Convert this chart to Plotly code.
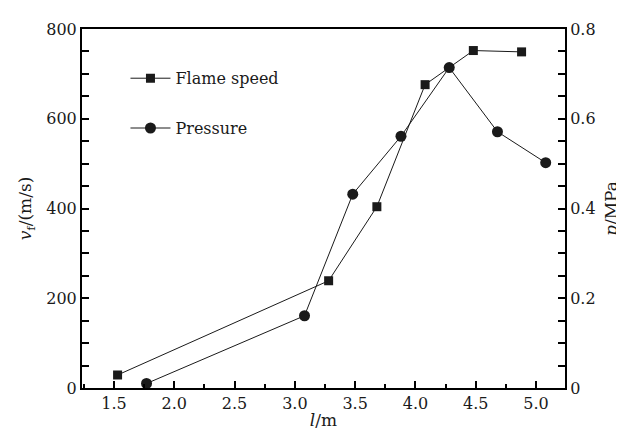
import plotly.graph_objects as go

# Data
flame_x = [1.53, 3.28, 3.68, 4.08, 4.48, 4.88]
flame_v = [29, 239, 404, 676, 752, 749]
press_x = [1.77, 3.08, 3.48, 3.88, 4.28, 4.68, 5.08]
press_p = [0.01, 0.161, 0.432, 0.561, 0.714, 0.571, 0.502]

FONT = "DejaVu Serif, Liberation Serif, serif"
INK = "#1a1a1a"
BLACK = "#000000"

fig = go.Figure()
fig.add_trace(go.Scatter(
    x=flame_x, y=flame_v, name="Flame speed", mode="lines+markers",
    line=dict(color=INK, width=1), marker=dict(symbol="square", size=9, color=INK),
    legendgroup="a", yaxis="y"))
fig.add_trace(go.Scatter(
    x=press_x, y=press_p, name="Pressure", mode="lines+markers",
    line=dict(color=INK, width=1), marker=dict(symbol="circle", size=11, color=INK),
    legendgroup="b", yaxis="y2"))

tickfont = dict(family=FONT, size=16, color=INK)
titlefont = dict(family=FONT, size=17, color=INK)

def ax_common():
    return dict(ticks="inside", ticklen=7, tickwidth=2, tickcolor=BLACK,
                showline=True, linewidth=2, linecolor=BLACK,
                showgrid=False, zeroline=False, tickfont=tickfont)

fig.update_layout(
    width=624, height=436,
    margin=dict(l=74, r=67, t=14, b=56),
    paper_bgcolor="white", plot_bgcolor="white",
    font=dict(family=FONT, size=16, color=INK),
    showlegend=True,
    legend=dict(x=0.09, y=0.91, xanchor="left", yanchor="top",
                traceorder="grouped", tracegroupgap=26,
                font=dict(family=FONT, size=16, color=INK),
                bgcolor="rgba(0,0,0,0)", itemwidth=40),
    xaxis=dict(range=[1.235, 5.24], tickmode="linear", tick0=1.5, dtick=0.5,
               tickformat=".1f", mirror=True,
               minor=dict(tickmode="linear", tick0=1.25, dtick=0.25, ticks="inside",
                          ticklen=4, tickwidth=2, tickcolor=BLACK, showgrid=False),
               title=dict(text="<i>l</i>/m", font=titlefont, standoff=2),
               **ax_common()),
    yaxis=dict(range=[0, 800], tickmode="linear", tick0=0, dtick=200,
               minor=dict(tickmode="linear", tick0=0, dtick=50, ticks="inside",
                          ticklen=7, tickwidth=2, tickcolor=BLACK, showgrid=False),
               title=dict(text="<i>v</i><sub>f</sub>/(m/s)", font=titlefont, standoff=10),
               **ax_common()),
    yaxis2=dict(range=[0, 0.8], tickmode="linear", tick0=0, dtick=0.2,
                overlaying="y", side="right",
                minor=dict(tickmode="linear", tick0=0, dtick=0.05, ticks="inside",
                           ticklen=7, tickwidth=2, tickcolor=BLACK, showgrid=False),
                title=dict(text="<i>p</i>/MPa", font=titlefont, standoff=10),
                **ax_common()),
)

fig.write_html("out.html")
